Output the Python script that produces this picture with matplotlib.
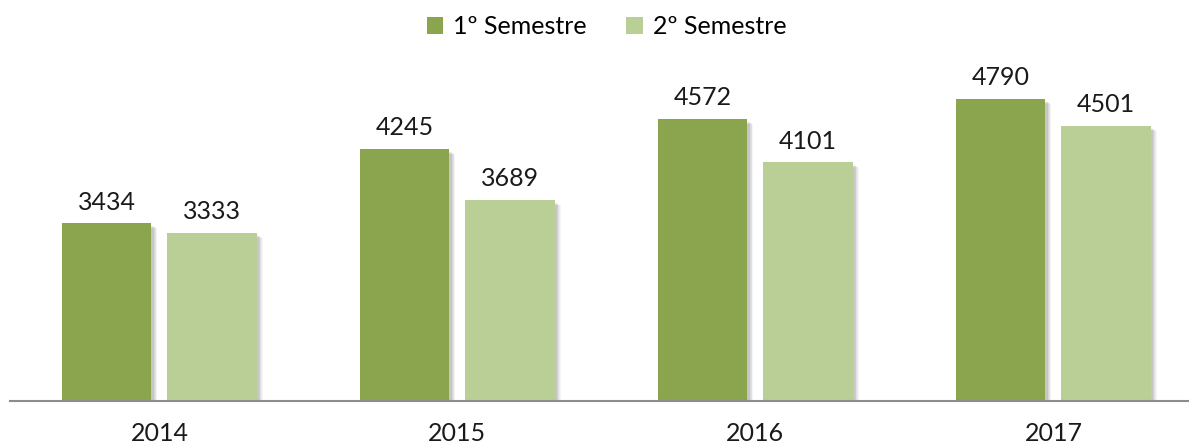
import numpy as np
import matplotlib.pyplot as plt
from matplotlib.patches import Rectangle, Patch

years = ["2014", "2015", "2016", "2017"]
sem1 = [3434, 4245, 4572, 4790]
sem2 = [3333, 3689, 4101, 4501]
labels = ["1º Semestre", "2º Semestre"]
colors = ["#8AA54E", "#BACF96"]

plt.rcParams["font.family"] = ["Lato", "DejaVu Sans"]

fig = plt.figure(figsize=(11.89, 4.46), dpi=100)
ax = fig.add_axes([0, 0.1009, 1, 0.7646])

x = np.arange(len(years))
w = 0.30
off = 0.177
ymin, ymax = 1500, 5215
ax.set_xlim(-0.535, 3.455)
ax.set_ylim(ymin, ymax)

# pixel -> data unit sizes, for the soft shadow
px_x = 1 / 298.0
px_y = (ymax - ymin) / (0.7646 * 446)

for vals, dx, col in [(sem1, -off, colors[0]), (sem2, off, colors[1])]:
    for xi, v in zip(x, vals):
        left = xi + dx - w / 2
        # soft shadow: stacked translucent rectangles
        for k in range(1, 7):
            ax.add_patch(Rectangle((left + 1.5 * px_x + k * px_x * 0.7, ymin),
                                   w, v - ymin - 2 * px_y - k * px_y * 0.5,
                                   facecolor="#000000", alpha=0.04,
                                   edgecolor="none", zorder=1))
        ax.bar(xi + dx, v - ymin, w, bottom=ymin, color=col, zorder=2)
        ax.annotate(str(v), (xi + dx, v), xytext=(0, 7),
                    textcoords="offset points", ha="center", va="bottom",
                    fontsize=18, color="#1a1a1a")

for s in ["top", "right", "left"]:
    ax.spines[s].set_visible(False)
ax.spines["bottom"].set_color("#8c8c8c")
ax.spines["bottom"].set_linewidth(1.5)
ax.spines["bottom"].set_bounds(-0.5, 3.5)
ax.spines["bottom"].set_zorder(3)
ax.set_yticks([])
ax.set_xticks(x)
ax.set_xticklabels(years, fontsize=18, color="#1a1a1a")
ax.tick_params(axis="x", length=0, pad=15)

handles = [Patch(facecolor=c, edgecolor="none") for c in colors]
fig.legend(handles, labels, loc="center", bbox_to_anchor=(0.51, 0.94),
           ncol=2, frameon=False, fontsize=18, handlelength=0.65,
           handleheight=0.65, handletextpad=0.4, columnspacing=1.6)

fig.savefig("out.png", dpi=100)
